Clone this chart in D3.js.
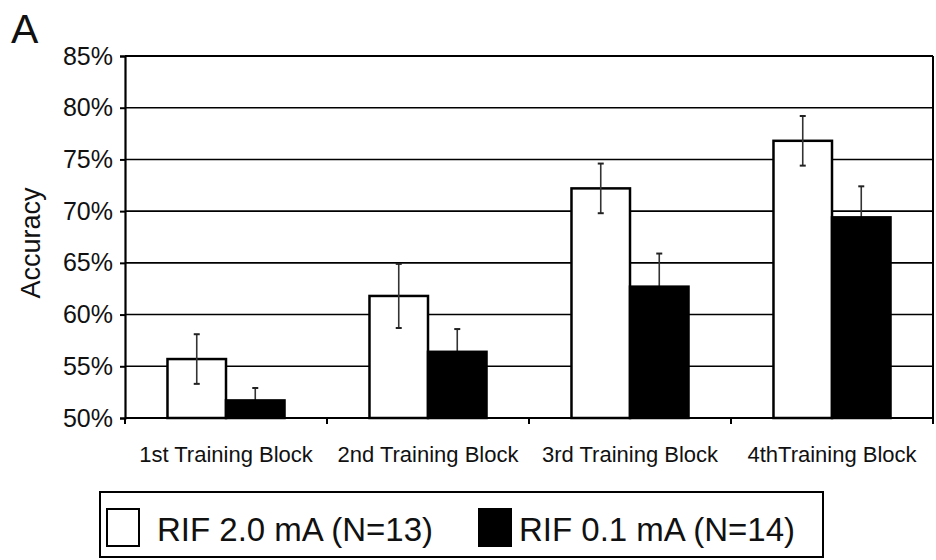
<!DOCTYPE html>
<html>
<head>
<meta charset="utf-8">
<script src="https://cdn.jsdelivr.net/npm/d3@7"></script>
<style>
html,body{margin:0;padding:0;background:#fff;}
svg{display:block;font-family:"Liberation Sans",Arial,sans-serif;}
</style>
</head>
<body>
<svg id="chart" width="936" height="560"></svg>
<script>
const categories = ["1st Training Block","2nd Training Block","3rd Training Block","4thTraining Block"];
const seriesNames = ["RIF 2.0 mA (N=13)","RIF 0.1 mA (N=14)"];
const rif20 = [55.7, 61.8, 72.2, 76.8];
const rif20Err = [2.4, 3.1, 2.4, 2.4];
const rif01 = [51.7, 56.4, 62.7, 69.4];
const rif01Err = [1.2, 2.2, 3.2, 3.0];
const yTicks = [50,55,60,65,70,75,80,85];

const svg = d3.select("#chart");
const L = 125, R = 933, T = 56, B = 418;

const y = d3.scaleLinear().domain([50,85]).range([B,T]);
const x0 = d3.scaleBand().domain(categories).range([L,R]).padding(0);
const x1 = d3.scaleBand().domain(seriesNames).range([0,x0.bandwidth()]).paddingInner(0).paddingOuter(0.726);
const fills = ["#fff","#000"];

const data = categories.map((c,i)=>({cat:c, vals:[
  {s:seriesNames[0], v:rif20[i], e:rif20Err[i], k:0},
  {s:seriesNames[1], v:rif01[i], e:rif01Err[i], k:1}
]}));

// gridlines
svg.append("g").selectAll("line").data(yTicks.filter(t=>t>50)).join("line")
  .attr("x1",L).attr("x2",R).attr("y1",d=>y(d)).attr("y2",d=>y(d))
  .attr("stroke","#000").attr("stroke-width",d=>d===85?2.2:1.6);
// right frame
svg.append("line").attr("x1",R).attr("x2",R).attr("y1",T).attr("y2",B)
  .attr("stroke","#000").attr("stroke-width",2);

const g = svg.append("g").selectAll("g").data(data).join("g")
  .attr("transform",d=>`translate(${x0(d.cat)},0)`);

function drawBars(sel, k){
  sel.selectAll("rect.s"+k).data(d=>d.vals.filter(v=>v.k===k)).join("rect").attr("class","s"+k)
    .attr("x",d=>x1(d.s)).attr("width",x1.bandwidth())
    .attr("y",d=>y(d.v)).attr("height",d=>y(50)-y(d.v))
    .attr("fill",d=>fills[d.k]).attr("stroke","#000").attr("stroke-width",2.5);
}
// white bars first
drawBars(g,0);

// error bars
const eb = g.selectAll("g.err").data(d=>d.vals).join("g").attr("class","err");
eb.append("line")
  .attr("x1",d=>x1(d.s)+x1.bandwidth()/2).attr("x2",d=>x1(d.s)+x1.bandwidth()/2)
  .attr("y1",d=>y(d.v+d.e)).attr("y2",d=>y(d.v-d.e))
  .attr("stroke","#333").attr("stroke-width",1.6);
eb.selectAll("line.cap").data(d=>[{d, v:d.v+d.e},{d, v:d.v-d.e}]).join("line").attr("class","cap")
  .attr("x1",o=>x1(o.d.s)+x1.bandwidth()/2-3).attr("x2",o=>x1(o.d.s)+x1.bandwidth()/2+3)
  .attr("y1",o=>y(o.v)).attr("y2",o=>y(o.v))
  .attr("stroke","#222").attr("stroke-width",2);

// black bars on top (hide lower half of their error bars)
drawBars(g,1);

// y axis
const ya = svg.append("g").attr("transform",`translate(${L},0)`)
  .call(d3.axisLeft(y).tickValues(yTicks).tickSize(5).tickPadding(7).tickFormat(d=>d+"%"));
ya.select(".domain").attr("stroke","#000").attr("stroke-width",2.2);
ya.selectAll(".tick line").attr("stroke","#000").attr("stroke-width",2);
ya.selectAll("text").attr("font-size","25px").attr("fill","#111")
  .attr("font-family","Liberation Sans, Arial, sans-serif");

// x axis
const xa = svg.append("g").attr("transform",`translate(0,${B})`)
  .call(d3.axisBottom(x0).tickSize(0).tickPadding(0));
xa.select(".domain").attr("stroke","#000").attr("stroke-width",2.2).attr("d",`M${L},0H${R}`);
xa.selectAll(".tick text").attr("font-size","22px").attr("fill","#111")
  .attr("y",44).attr("dy",0).attr("font-family","Liberation Sans, Arial, sans-serif");
// category boundary ticks
svg.append("g").selectAll("line").data(categories).join("line")
  .attr("x1",d=>x0(d)).attr("x2",d=>x0(d)).attr("y1",B).attr("y2",B+6)
  .attr("stroke","#000").attr("stroke-width",2);
svg.append("line").attr("x1",R).attr("x2",R).attr("y1",B).attr("y2",B+6)
  .attr("stroke","#000").attr("stroke-width",2);

// y title
svg.append("text").attr("transform","translate(40,243) rotate(-90)")
  .attr("text-anchor","middle").attr("font-size","27px").attr("fill","#111").text("Accuracy");

// panel letter
svg.append("text").attr("x",11).attr("y",43).attr("font-size","41px").attr("fill","#111").text("A");

// legend
const lg = svg.append("g");
lg.append("rect").attr("x",100).attr("y",492).attr("width",723).attr("height",65)
  .attr("fill","#fff").attr("stroke","#000").attr("stroke-width",2);
const legX = [107, 479], legT = [157, 519];
seriesNames.forEach((s,i)=>{
  lg.append("rect").attr("x",legX[i]).attr("y",509).attr("width",32).attr("height",37)
    .attr("fill",fills[i]).attr("stroke","#000").attr("stroke-width",2);
  lg.append("text").attr("x",legT[i]).attr("y",541).attr("font-size","33px").attr("fill","#111").text(s);
});
</script>
</body>
</html>
